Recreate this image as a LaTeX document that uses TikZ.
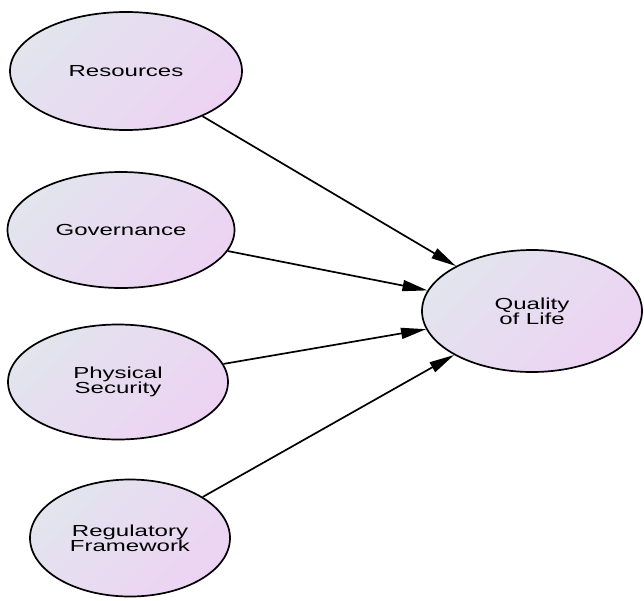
\documentclass[tikz,border=0pt]{standalone}
\usepackage{fontspec}
\setmainfont[FakeStretch=1.5]{Liberation Sans}
\usetikzlibrary{shapes.geometric,arrows.meta}
\definecolor{gA}{HTML}{E2E4EE}
\definecolor{gB}{HTML}{EDD3F3}
\begin{document}
\begin{tikzpicture}[x=1pt,y=-1pt,
  bubble/.style={ellipse, draw=black, line width=1.7pt, inner sep=0pt,
    top color=gA, bottom color=gB, shading angle=45,
    font=\fontsize{16}{15}\selectfont, align=center},
  link/.style={line width=1.7pt, -{Triangle[length=25pt,width=11pt]}}]
\useasboundingbox (0,0) rectangle (644,600);
\node[bubble, minimum width=232pt, minimum height=118pt] (res) at (126,71) {Resources};
\node[bubble, minimum width=227pt, minimum height=116pt] (gov) at (121,230) {Governance};
\node[bubble, minimum width=220pt, minimum height=115pt] (phy) at (118,382) {Physical\\Security};
\node[bubble, minimum width=200pt, minimum height=117pt] (reg) at (130,538) {Regulatory\\Framework};
\node[bubble, minimum width=220pt, minimum height=122pt] (qol) at (532,311) {Quality\\of Life};
\draw[link] (res) -- (qol);
\draw[link] (gov) -- (qol);
\draw[link] (phy) -- (qol);
\draw[link] (reg) -- (qol);
\end{tikzpicture}
\end{document}
